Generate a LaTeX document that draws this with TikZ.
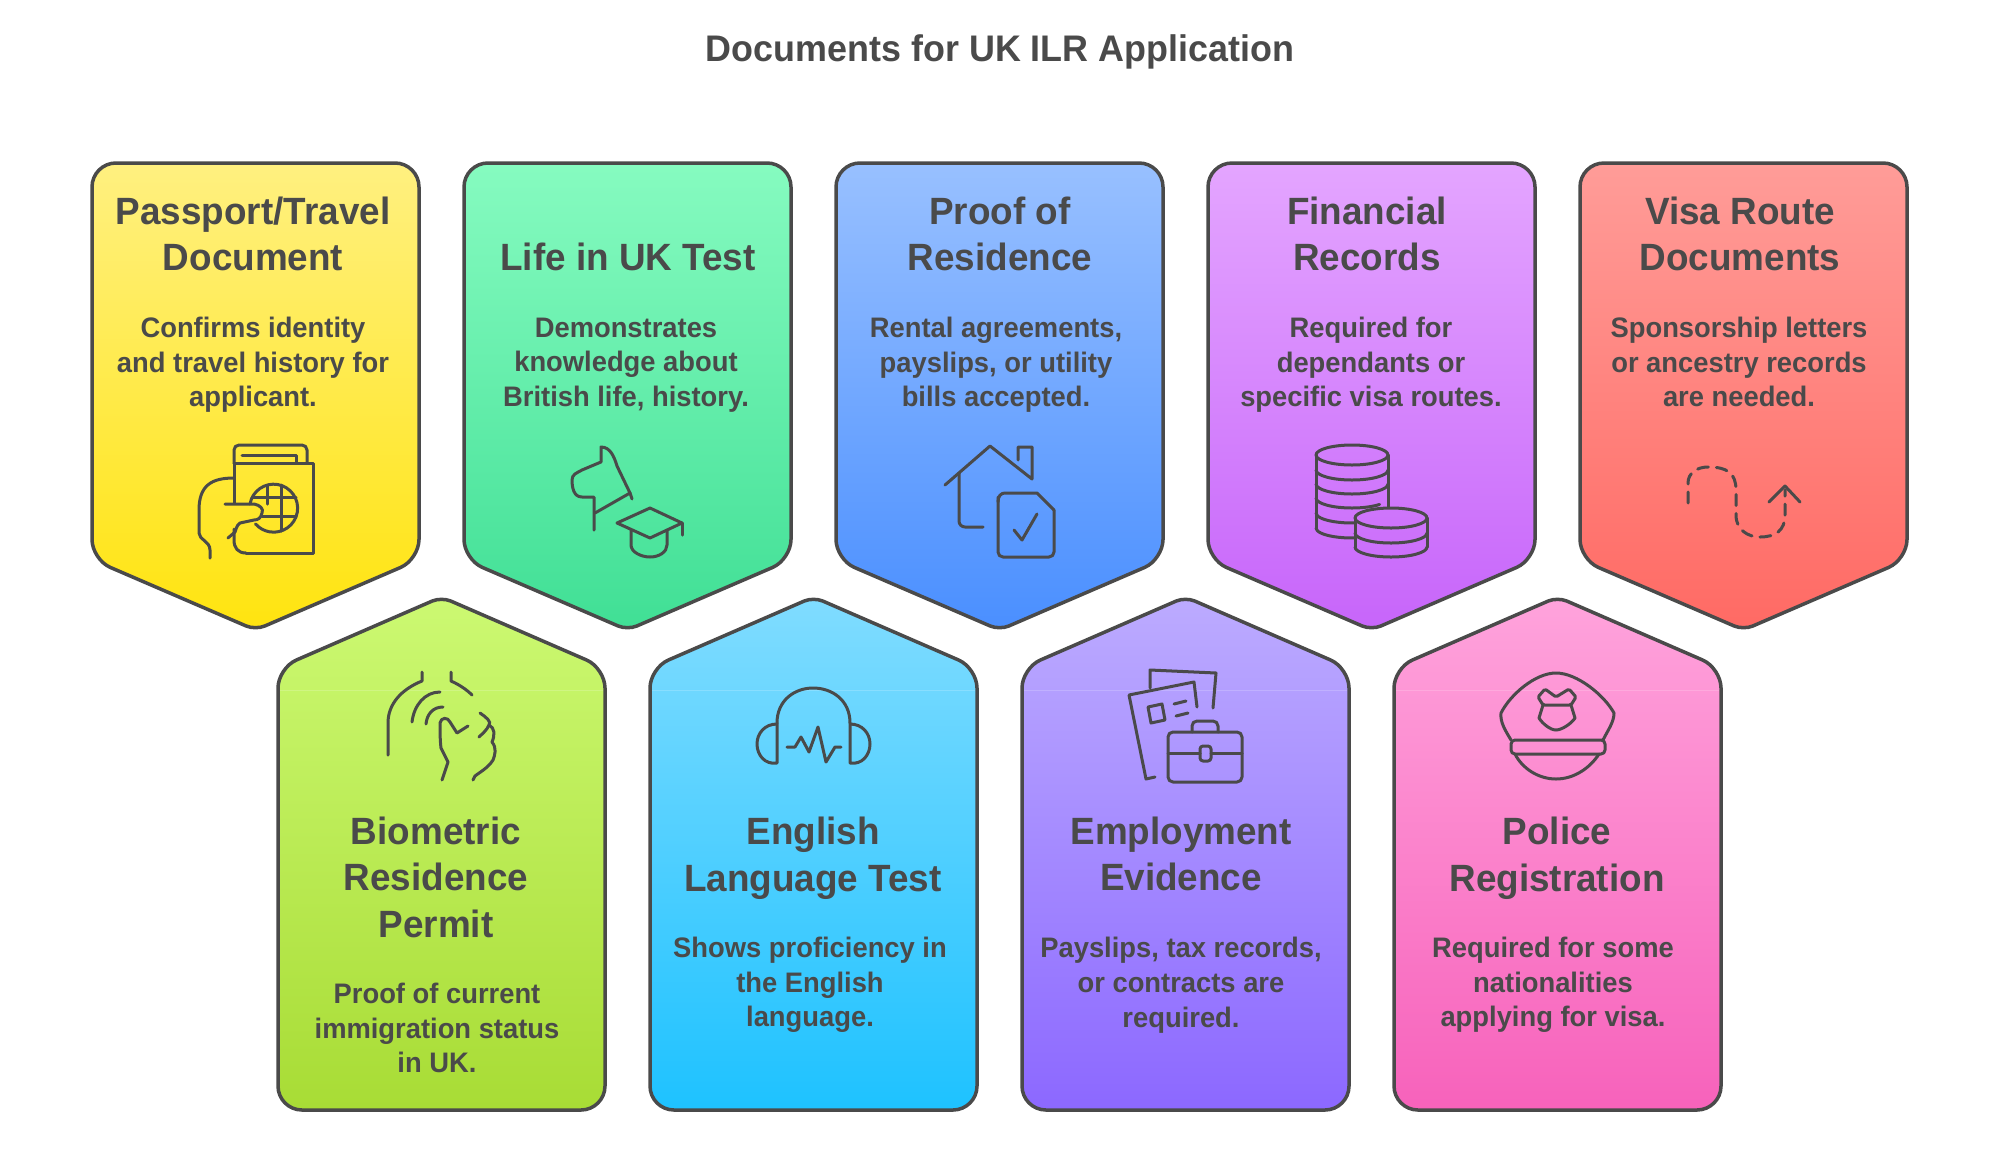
\documentclass[tikz,border=0pt]{standalone}
\usepackage{fontspec}
\setmainfont[FakeStretch=0.97]{Liberation Sans}
\definecolor{inkgrey}{HTML}{4A4A4A}
\definecolor{yellowtop}{HTML}{FFF080}
\definecolor{yellowbot}{HTML}{FFE40F}
\definecolor{greentop}{HTML}{86FBC0}
\definecolor{greenbot}{HTML}{40DF95}
\definecolor{bluetop}{HTML}{98C0FF}
\definecolor{bluebot}{HTML}{4A8FFF}
\definecolor{purpletop}{HTML}{E4A5FF}
\definecolor{purplebot}{HTML}{C765FA}
\definecolor{redtop}{HTML}{FF9C98}
\definecolor{redbot}{HTML}{FF6A64}
\definecolor{limetop}{HTML}{CCF972}
\definecolor{limebot}{HTML}{A8DC35}
\definecolor{cyantop}{HTML}{80DCFF}
\definecolor{cyanbot}{HTML}{1EC2FF}
\definecolor{violettop}{HTML}{BCABFF}
\definecolor{violetbot}{HTML}{8C68FF}
\definecolor{pinktop}{HTML}{FFA3DC}
\definecolor{pinkbot}{HTML}{F762BB}
\tikzset{
cardbox/.style={draw=inkgrey,line width=3.5pt},
seamline/.style={draw=white,opacity=.18,line width=1pt},
titletext/.style={text=inkgrey,align=center,inner sep=0pt,font=\fontsize{37pt}{46.5pt}\selectfont\bfseries},
headtext/.style={text=inkgrey,align=center,inner sep=0pt,font=\fontsize{38pt}{46.5pt}\selectfont\bfseries},
bodytext/.style={text=inkgrey,align=center,inner sep=0pt,font=\fontsize{28.2pt}{34.7pt}\selectfont\bfseries},
icon/.style={draw=inkgrey,line width=3pt,line cap=round,line join=round},
}
\newcommand{\topcard}[3]{\draw[cardbox,top color=#2,bottom color=#3] (#1+163.5,163) [rounded corners=24pt] -- (#1+327,163) [rounded corners=20pt] -- (#1+327,559.5) [rounded corners=10pt] -- (#1+163.5,630) [rounded corners=20pt] -- (#1,559.5) [rounded corners=24pt] -- (#1,163) [sharp corners] -- cycle;}
\newcommand{\lowcard}[3]{\draw[cardbox,top color=#2,bottom color=#3] (#1+163.5,1110) [rounded corners=24pt] -- (#1+327,1110) [rounded corners=20pt] -- (#1+327,668) [rounded corners=10pt] -- (#1+163.5,597) [rounded corners=20pt] -- (#1,668) [rounded corners=24pt] -- (#1,1110) [sharp corners] -- cycle;
\draw[seamline] (#1+2,690.5) -- (#1+325,690.5);}

\begin{document}
\begin{tikzpicture}[x=1pt,y=-1pt]
\useasboundingbox (0,0) rectangle (1999,1149);

\node[titletext] (title) at (1000,52) {Documents for UK ILR Application};

\topcard{92}{yellowtop}{yellowbot}
\topcard{464}{greentop}{greenbot}
\topcard{836}{bluetop}{bluebot}
\topcard{1208}{purpletop}{purplebot}
\topcard{1580}{redtop}{redbot}
\lowcard{278}{limetop}{limebot}
\lowcard{650}{cyantop}{cyanbot}
\lowcard{1022}{violettop}{violetbot}
\lowcard{1394}{pinktop}{pinkbot}

\node[headtext] (passporthead) at (253,234) {Passport/Travel\\Document};
\node[headtext] (lifehead) at (628,257) {Life in UK Test};
\node[headtext] (residencehead) at (1000,234) {Proof of\\Residence};
\node[headtext] (financehead) at (1367,234) {Financial\\Records};
\node[headtext] (visahead) at (1740,234) {Visa Route\\Documents};
\node[headtext] (permithead) at (436,877) {Biometric\\Residence\\Permit};
\node[headtext] (englishhead) at (813,858) {English\\Language Test};
\node[headtext] (jobhead) at (1181,854) {Employment\\Evidence};
\node[headtext] (policehead) at (1557,858) {Police\\Registration};

\node[bodytext] (passportbody) at (253,365) {Confirms identity\\and travel history for\\applicant.};
\node[bodytext] (lifebody) at (626,365) {Demonstrates\\knowledge about\\British life, history.};
\node[bodytext] (residencebody) at (996,365) {Rental agreements,\\payslips, or utility\\bills accepted.};
\node[bodytext] (financebody) at (1371,365) {Required for\\dependants or\\specific visa routes.};
\node[bodytext] (visabody) at (1739,362) {Sponsorship letters\\or ancestry records\\are needed.};
\node[bodytext] (permitbody) at (437,1028) {Proof of current\\immigration status\\in UK.};
\node[bodytext] (englishbody) at (810,985) {Shows proficiency in\\the English\\language.};
\node[bodytext] (jobbody) at (1181,985) {Payslips, tax records,\\or contracts are\\required.};
\node[bodytext] (policebody) at (1553,985) {Required for some\\nationalities\\applying for visa.};

\draw[icon,rounded corners=5pt] (234,463)--(234,445)--(307,445)--(307,463);
\draw[icon] (242,455)--(296,455)--(296,463);
\draw[icon] (234,463)--(313,463)--(313,553)--(246,553);
\draw[icon] (246,553) .. controls (238,553) and (234,548) .. (234,540)--(234,529);
\draw[icon] (234,463)--(234,503);
\draw[icon] (250,504) arc[start angle=190,end angle=499,radius=24];
\draw[icon] (267,486)--(267,504);
\draw[icon] (281,485)--(281,531);
\draw[icon] (252,497)--(296,497);
\draw[icon] (262,516)--(296,516);
\draw[icon] (225,504)--(254,504) .. controls (260,505) and (264,509) .. (262,513) .. controls (261,518) and (258,520) .. (254,520)--(240,523) .. controls (236,526) and (236,530) .. (235,532)--(228,538);
\draw[icon] (234,478) .. controls (212,478) and (199,485) .. (199,510)--(199,533) .. controls (199,540) and (210,541) .. (210,550)--(210,558);

\draw[icon] (594,530)--(594,497)--(582,497) .. controls (574,497) and (572,488) .. (572,480) .. controls (572,474) and (577,473) .. (582,470)--(601,462)--(601,447) .. controls (610,447) and (614,456) .. (617,466)--(630,493)--(632,499);
\draw[icon] (630,493)--(595,513);
\draw[icon] (650,508)--(682,523)--(650,538)--(617,523)--cycle;
\draw[icon] (682,523)--(682,535);
\draw[icon] (631,530)--(631,545) .. controls (631,552) and (641,557) .. (650,557) .. controls (659,557) and (667,552) .. (667,545)--(667,530);

\draw[icon] (945,485)--(990,446)--(1032,479)--(1032,447)--(1018,447)--(1018,460);
\draw[icon,rounded corners=6pt] (959,473)--(959,527)--(983,527);
\draw[icon,rounded corners=5pt] (998,497)--(998,557)--(1054,557)--(1054,510);
\draw[icon] (998,502) .. controls (998,496) and (1001,493) .. (1005,493)--(1037,493)--(1054,510);
\draw[icon] (1014,530)--(1022,540)--(1037,514);

\draw[icon] (1352,455) ellipse[x radius=36,y radius=10];
\draw[icon] (1316,455)--(1316,528);
\draw[icon] (1388,455)--(1388,507);
\draw[icon] (1316,470) arc[start angle=180,end angle=0,x radius=36,y radius=10];
\draw[icon] (1316,484) arc[start angle=180,end angle=0,x radius=36,y radius=10];
\draw[icon] (1316,498) arc[start angle=180,end angle=40,x radius=36,y radius=10];
\draw[icon] (1316,513) arc[start angle=180,end angle=85,x radius=36,y radius=10];
\draw[icon] (1316,528) arc[start angle=180,end angle=85,x radius=36,y radius=10];
\draw[icon] (1391,518) ellipse[x radius=36,y radius=10];
\draw[icon] (1355,518)--(1355,547);
\draw[icon] (1427,518)--(1427,547);
\draw[icon] (1355,533) arc[start angle=180,end angle=0,x radius=36,y radius=10];
\draw[icon] (1355,547) arc[start angle=180,end angle=0,x radius=36,y radius=10];

\draw[icon,dash pattern=on 11pt off 8pt] (1688,503)--(1688,483) .. controls (1688,473) and (1697,467) .. (1708,467) .. controls (1727,467) and (1736,473) .. (1736,490)--(1736,515) .. controls (1736,530) and (1748,537) .. (1760,537) .. controls (1776,537) and (1785,530) .. (1785,515)--(1785,490);
\draw[icon] (1769,502)--(1785,486)--(1800,502);

\draw[icon] (422,672)--(422,681) .. controls (400,690) and (388,705) .. (388,723)--(388,755);
\draw[icon] (451,672)--(451,681) .. controls (460,685) and (467,690) .. (472,695);
\draw[icon] (412,722) .. controls (414,705) and (425,692) .. (440,692);
\draw[icon] (426,724) .. controls (427,714) and (433,707) .. (443,707);
\draw[icon] (442,780)--(448,762)--(441,748) .. controls (440,740) and (440,730) .. (440,723) .. controls (441,717) and (448,717) .. (450,722)--(457,733)--(468,726);
\draw[icon] (480,713) .. controls (486,717) and (492,722) .. (489,725) .. controls (487,730) and (482,734) .. (479,737);
\draw[icon] (489,725) .. controls (495,728) and (495,735) .. (492,742) .. controls (497,748) and (495,755) .. (493,760) .. controls (488,768) and (480,772) .. (475,776)--(473,780);

\draw[icon] (777,723) .. controls (777,700) and (795,688) .. (813,688) .. controls (832,688) and (850,700) .. (850,723);
\draw[icon] (777,723)--(777,763) .. controls (765,765) and (757,755) .. (757,744) .. controls (757,733) and (765,724) .. (777,724);
\draw[icon] (850,723)--(850,763) .. controls (862,765) and (870,755) .. (870,744) .. controls (870,733) and (862,724) .. (850,724);
\draw[icon] (787,747)--(795,747)--(801,737)--(809,752)--(818,727)--(826,762)--(835,747)--(841,747);

\draw[icon] (1150,688)--(1150,670)--(1216,673)--(1213,708);
\draw[icon] (1197,707)--(1194,682)--(1129,695)--(1146,779)--(1155,777);
\draw[icon] (1148,707)--(1162,704)--(1165,720)--(1151,723)--cycle;
\draw[icon] (1174,704)--(1186,701);
\draw[icon] (1176,716)--(1188,713);
\draw[icon,rounded corners=5pt] (1168,732) rectangle (1242,782);
\draw[icon,rounded corners=5pt] (1192,732)--(1192,721)--(1218,721)--(1218,732);
\draw[icon] (1168,753)--(1200,753);
\draw[icon] (1211,753)--(1242,753);
\draw[icon,rounded corners=3pt] (1200,746) rectangle (1211,761);

\draw[icon] (1511,740) .. controls (1505,730) and (1500,722) .. (1501,713) .. controls (1510,695) and (1535,673) .. (1556,673) .. controls (1577,673) and (1604,695) .. (1614,713) .. controls (1614,722) and (1608,730) .. (1603,740);
\draw[icon,rounded corners=4pt] (1511,740) rectangle (1605,754);
\draw[icon] (1515,754) .. controls (1522,768) and (1538,779) .. (1556,779) .. controls (1574,779) and (1590,768) .. (1599,754);
\draw[icon,rounded corners=1.5pt] (1543,705)--(1538,697)--(1545,689)--(1556,697)--(1569,689)--(1576,697)--(1571,705)--cycle;
\draw[icon] (1543,705)--(1539,718) .. controls (1542,723) and (1550,730) .. (1556,730) .. controls (1562,730) and (1572,723) .. (1575,718)--(1571,705);
\end{tikzpicture}
\end{document}
